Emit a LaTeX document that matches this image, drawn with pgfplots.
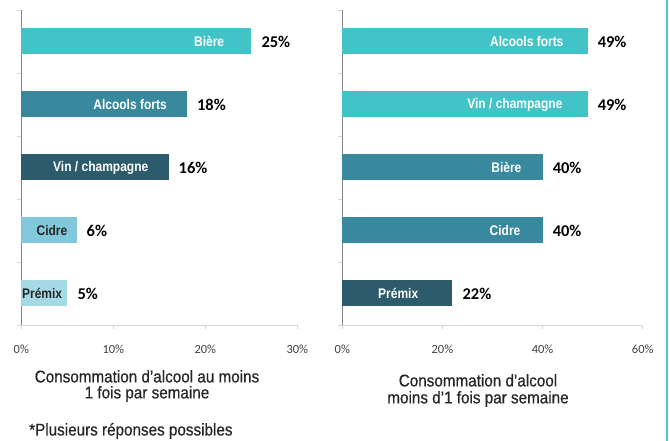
\documentclass[border=0pt]{standalone}
\usepackage{pgfplots}
\pgfplotsset{compat=1.18}
\usepackage{fontspec}
\setmainfont{Carlito}
\newfontfamily\condb[FakeStretch=0.86]{Liberation Sans}
\newfontfamily\condt[FakeStretch=0.9, FakeBold=0.6]{Liberation Sans}

\definecolor{cLight}{RGB}{66,195,199}
\definecolor{cMid}{RGB}{56,136,158}
\definecolor{cDark}{RGB}{44,91,107}
\definecolor{cCidre}{RGB}{128,200,218}
\definecolor{cPremix}{RGB}{166,217,230}
\definecolor{axisgray}{RGB}{134,134,134}
\definecolor{gridgray}{RGB}{214,214,214}
\definecolor{ticktext}{RGB}{64,64,64}
\definecolor{titletext}{RGB}{38,38,38}
\definecolor{framecol}{RGB}{84,196,206}

\pgfplotsset{
  /pgf/number format/assume math mode=true,
  panel/.style={
    scale only axis,
    height=315bp,
    xbar, bar width=26bp,
    ymin=-0.5, ymax=4.5, xmin=0,
    axis x line*=bottom, axis y line*=left,
    axis line style={-},
    x axis line style={draw=gridgray, line width=0.8bp},
    y axis line style={draw=axisgray, line width=0.8bp},
    tick align=outside,
    major tick length=4bp,
    xtick style={draw=gridgray, line width=0.8bp},
    ytick style={draw=gridgray, line width=0.8bp},
    ytick={-0.5,0.5,...,4.5}, yticklabels={,,,,,},
    xticklabel={\pgfmathprintnumber{\tick}\%},
    xticklabel style={font=\fontsize{12.5}{12}\selectfont, text=ticktext, anchor=center, yshift=-20bp},
    clip=false,
  },
  valbar/.style={
    fill=#1, draw=none, bar shift=0pt, point meta=x,
    nodes near coords={\pgfmathprintnumber{\pgfplotspointmeta}\%},
    nodes near coords style={anchor=west, inner sep=0pt, xshift=10bp,
      font=\fontsize{16.5}{16}\selectfont\bfseries, text=black},
  },
  namebar/.style={
    fill=none, draw=none, bar shift=0pt, point meta=explicit symbolic,
    nodes near coords,
    nodes near coords style={anchor=east, inner sep=0pt, xshift=-#1,
      font=\condb\bfseries\fontsize{14}{14}\selectfont, text=white},
  },
  darkname/.style={nodes near coords style={text=titletext}},
}

\begin{document}
\begin{tikzpicture}
\useasboundingbox (0,0) rectangle (670bp,441bp);

% au moins 1 fois par semaine
\begin{axis}[panel, at={(21.3bp,116bp)}, anchor=south west,
  width=276bp, xmax=30, xtick={0,10,20,30}]
  \addplot[valbar=cLight] coordinates {(25,4)};
  \addplot[namebar=27bp] coordinates {(25,4) [Bière]};
  \addplot[valbar=cMid] coordinates {(18,3)};
  \addplot[namebar=20bp] coordinates {(18,3) [Alcools forts]};
  \addplot[valbar=cDark] coordinates {(16,2)};
  \addplot[namebar=20bp] coordinates {(16,2) [Vin / champagne]};
  \addplot[valbar=cCidre] coordinates {(6,1)};
  \addplot[namebar=9bp, darkname] coordinates {(6,1) [Cidre]};
  \addplot[valbar=cPremix] coordinates {(5,0)};
  \addplot[namebar=5bp, darkname] coordinates {(5,0) [Prémix]};
\end{axis}

% moins d'1 fois par semaine
\begin{axis}[panel, at={(342.3bp,116bp)}, anchor=south west,
  width=300.4bp, xmax=60, xtick={0,20,40,60}]
  \addplot[valbar=cLight] coordinates {(49,4)};
  \addplot[namebar=24bp] coordinates {(49,4) [Alcools forts]};
  \addplot[valbar=cLight] coordinates {(49,3)};
  \addplot[namebar=25bp] coordinates {(49,3) [Vin / champagne]};
  \addplot[valbar=cMid] coordinates {(40,2)};
  \addplot[namebar=21bp] coordinates {(40,2) [Bière]};
  \addplot[valbar=cMid] coordinates {(40,1)};
  \addplot[namebar=22bp] coordinates {(40,1) [Cidre]};
  \addplot[valbar=cDark] coordinates {(22,0)};
  \addplot[namebar=34bp] coordinates {(22,0) [Prémix]};
\end{axis}

\node[font=\condt\fontsize{17}{16}\selectfont, align=center, text=titletext]
  at (147bp,55bp) {Consommation d’alcool au moins\\1 fois par semaine};
\node[font=\condt\fontsize{17}{17}\selectfont, align=center, text=titletext]
  at (478bp,50.5bp) {Consommation d’alcool\\moins d’1 fois par semaine};
\node[font=\condt\fontsize{17}{16}\selectfont, anchor=west, inner sep=0pt, text=titletext]
  at (29bp,10bp) {*Plusieurs réponses possibles};
\draw[framecol, line width=1.5bp] (667bp,0) -- (667bp,441bp);
\end{tikzpicture}
\end{document}
